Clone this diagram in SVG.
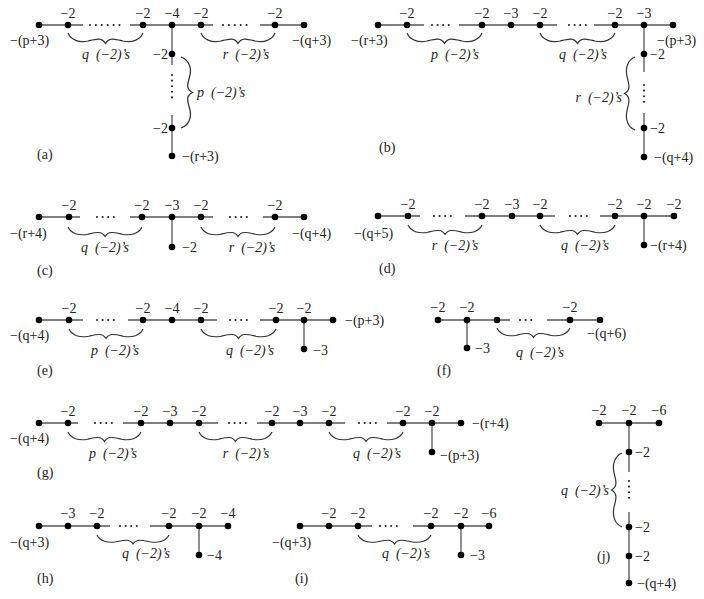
<svg xmlns="http://www.w3.org/2000/svg" xmlns:xlink="http://www.w3.org/1999/xlink" width="704" height="599" viewBox="0 0 704 599">
<style>
.e{stroke:#555;stroke-width:1.3;fill:none}
.n circle{fill:#000}
text{font-family:"Liberation Serif","Times New Roman",serif;font-size:14px;fill:#222}
.i{font-style:italic;white-space:pre}
.m{text-anchor:middle}
.r{text-anchor:end}
.d{stroke:#222;stroke-width:2.1;stroke-linecap:round;stroke-dasharray:0 5.6;fill:none}
.d6{stroke:#222;stroke-width:2.1;stroke-linecap:round;stroke-dasharray:0 5.9;fill:none}
</style>
<defs>
<path id="br" d="M0,0 C3,7 11,10 20,8 C28,6 34,4 37.5,10.5 C41,4 47,6 55,8 C64,10 72,7 75,0" fill="none" stroke="#333" stroke-width="1.2"/>
</defs>
<rect width="704" height="599" fill="#fff"/>

<!-- (a) -->
<g id="fig-a">
<g id="a-edges">
<path class="e" d="M39,25H83M130,25H213M260,25H304M172,25V65M172,115V156"/>
<path class="d6" d="M90,25H120M223,25H252"/>
<path class="d" d="M172,75V102"/>
</g>
<g id="a-nodes" class="n">
<circle cx="39" cy="25" r="3.3"/><circle cx="68" cy="25" r="3.3"/><circle cx="143" cy="25" r="3.3"/><circle cx="172" cy="25" r="3.3"/><circle cx="201" cy="25" r="3.3"/><circle cx="275" cy="25" r="3.3"/><circle cx="304" cy="25" r="3.3"/>
<circle cx="172" cy="54" r="3.3"/><circle cx="172" cy="128" r="3.3"/><circle cx="172" cy="156" r="3.3"/>
</g>
<g id="a-labels">
<text class="m" x="68" y="18">−2</text><text class="m" x="143" y="18">−2</text><text class="m" x="172" y="18">−4</text><text class="m" x="201" y="18">−2</text><text class="m" x="275" y="18">−2</text>
<text x="10" y="45">−(p+3)</text><text x="292" y="45">−(q+3)</text>
<text class="r" x="168" y="59">−2</text><text class="r" x="168" y="133">−2</text>
<text x="182" y="161">−(r+3)</text><text x="37" y="159">(a)</text>
</g>
<g id="a-braces">
<use xlink:href="#br" transform="matrix(1,0,0,1,68,33)"/>
<use xlink:href="#br" transform="matrix(0.987,0,0,1,201,33)"/>
<use xlink:href="#br" transform="matrix(0,0.947,1.1,0,181,57)"/>
<text class="i m" x="106" y="59">q  (−2)’s</text>
<text class="i m" x="246" y="59">r  (−2)’s</text>
<text class="i" x="197" y="97">p  (−2)’s</text>
</g>
</g>

<!-- (b) -->
<g id="fig-b">
<g id="b-edges">
<path class="e" d="M378,25H424M459,25H557M594,25H673M644,25V72M644,113V157"/>
<path class="d" d="M432,25H449M569,25H586"/>
<path class="d" d="M644,85V102"/>
</g>
<g id="b-nodes" class="n">
<circle cx="378" cy="25" r="3.3"/><circle cx="407" cy="25" r="3.3"/><circle cx="482" cy="25" r="3.3"/><circle cx="511" cy="25" r="3.3"/><circle cx="540" cy="25" r="3.3"/><circle cx="615" cy="25" r="3.3"/><circle cx="644" cy="25" r="3.3"/><circle cx="673" cy="25" r="3.3"/>
<circle cx="644" cy="54" r="3.3"/><circle cx="644" cy="128" r="3.3"/><circle cx="644" cy="157" r="3.3"/>
</g>
<g id="b-labels">
<text class="m" x="407" y="18">−2</text><text class="m" x="482" y="18">−2</text><text class="m" x="511" y="18">−3</text><text class="m" x="540" y="18">−2</text><text class="m" x="615" y="18">−2</text><text class="m" x="644" y="18">−3</text>
<text x="351" y="45">−(r+3)</text><text x="657" y="45">−(p+3)</text>
<text x="650" y="59">−2</text><text x="650" y="133">−2</text>
<text x="654" y="162">−(q+4)</text><text x="379" y="152">(b)</text>
</g>
<g id="b-braces">
<use xlink:href="#br" transform="matrix(1,0,0,1,407,33)"/>
<use xlink:href="#br" transform="matrix(1,0,0,1,540,33)"/>
<use xlink:href="#br" transform="matrix(0,0.973,-1,0,635,57)"/>
<text class="i m" x="455" y="59">p  (−2)’s</text>
<text class="i m" x="583" y="59">q  (−2)’s</text>
<text class="i r" x="622" y="102">r  (−2)’s</text>
</g>
</g>

<!-- (c) -->
<g id="fig-c">
<g id="c-edges">
<path class="e" d="M39,217H80M130,217H213M263,217H304M172,217V247"/>
<path class="d" d="M97,217H114M230,217H247"/>
</g>
<g id="c-nodes" class="n">
<circle cx="39" cy="217" r="3.3"/><circle cx="69" cy="217" r="3.3"/><circle cx="142" cy="217" r="3.3"/><circle cx="172" cy="217" r="3.3"/><circle cx="201" cy="217" r="3.3"/><circle cx="275" cy="217" r="3.3"/><circle cx="304" cy="217" r="3.3"/><circle cx="172" cy="247" r="3.3"/>
</g>
<g id="c-labels">
<text class="m" x="69" y="210">−2</text><text class="m" x="142" y="210">−2</text><text class="m" x="172" y="210">−3</text><text class="m" x="201" y="210">−2</text><text class="m" x="275" y="210">−2</text>
<text x="10" y="238">−(r+4)</text><text x="292" y="238">−(q+4)</text>
<text x="182" y="252">−2</text><text x="37" y="275">(c)</text>
</g>
<g id="c-braces">
<use xlink:href="#br" transform="matrix(0.987,0,0,0.9,68,227)"/>
<use xlink:href="#br" transform="matrix(0.987,0,0,0.9,201,227)"/>
<text class="i m" x="105" y="252">q  (−2)’s</text>
<text class="i m" x="252" y="252">r  (−2)’s</text>
</g>
</g>

<!-- (d) -->
<g id="fig-d">
<g id="d-edges">
<path class="e" d="M378,216H420M465,216H555M600,216H674M644,216V245"/>
<path class="d" d="M434,216H451M570,216H587"/>
</g>
<g id="d-nodes" class="n">
<circle cx="378" cy="216" r="3.3"/><circle cx="408" cy="216" r="3.3"/><circle cx="482" cy="216" r="3.3"/><circle cx="512" cy="216" r="3.3"/><circle cx="540" cy="216" r="3.3"/><circle cx="615" cy="216" r="3.3"/><circle cx="644" cy="216" r="3.3"/><circle cx="674" cy="216" r="3.3"/><circle cx="644" cy="245" r="3.3"/>
</g>
<g id="d-labels">
<text class="m" x="408" y="209">−2</text><text class="m" x="482" y="209">−2</text><text class="m" x="512" y="209">−3</text><text class="m" x="540" y="209">−2</text><text class="m" x="615" y="209">−2</text><text class="m" x="644" y="209">−2</text><text class="m" x="674" y="209">−2</text>
<text x="354" y="238">−(q+5)</text><text x="650" y="250">−(r+4)</text><text x="379" y="273">(d)</text>
</g>
<g id="d-braces">
<use xlink:href="#br" transform="matrix(0.987,0,0,0.9,408,225)"/>
<use xlink:href="#br" transform="matrix(1,0,0,0.9,540,225)"/>
<text class="i m" x="455" y="250">r  (−2)’s</text>
<text class="i m" x="585" y="250">q  (−2)’s</text>
</g>
</g>

<!-- (e) -->
<g id="fig-e">
<g id="e-edges">
<path class="e" d="M39,320H83M128,320H217M260,320H333M304,320V349"/>
<path class="d" d="M97,320H114M230,320H247"/>
</g>
<g id="e-nodes" class="n">
<circle cx="39" cy="320" r="3.3"/><circle cx="69" cy="320" r="3.3"/><circle cx="143" cy="320" r="3.3"/><circle cx="172" cy="320" r="3.3"/><circle cx="201" cy="320" r="3.3"/><circle cx="276" cy="320" r="3.3"/><circle cx="304" cy="320" r="3.3"/><circle cx="333" cy="320" r="3.3"/><circle cx="304" cy="349" r="3.3"/>
</g>
<g id="e-labels">
<text class="m" x="69" y="313">−2</text><text class="m" x="143" y="313">−2</text><text class="m" x="172" y="313">−4</text><text class="m" x="201" y="313">−2</text><text class="m" x="276" y="313">−2</text><text class="m" x="304" y="313">−2</text>
<text x="345" y="325">−(p+3)</text><text x="10" y="340">−(q+4)</text>
<text x="313" y="355">−3</text><text x="37" y="375">(e)</text>
</g>
<g id="e-braces">
<use xlink:href="#br" transform="matrix(0.987,0,0,0.9,69,329)"/>
<use xlink:href="#br" transform="matrix(1,0,0,0.9,201,329)"/>
<text class="i m" x="115" y="355">p  (−2)’s</text>
<text class="i m" x="250" y="355">q  (−2)’s</text>
</g>
</g>

<!-- (f) -->
<g id="fig-f">
<g id="f-edges">
<path class="e" d="M438,320H510M547,320H600M467,320V348"/>
<path class="d" d="M520,320H534"/>
</g>
<g id="f-nodes" class="n">
<circle cx="438" cy="320" r="3.3"/><circle cx="467" cy="320" r="3.3"/><circle cx="497" cy="320" r="3.3"/><circle cx="570" cy="320" r="3.3"/><circle cx="600" cy="320" r="3.3"/><circle cx="467" cy="348" r="3.3"/>
</g>
<g id="f-labels">
<text class="m" x="438" y="312">−2</text><text class="m" x="467" y="312">−2</text><text class="m" x="570" y="312">−2</text>
<text x="587" y="338">−(q+6)</text><text x="475" y="353">−3</text><text x="437" y="375">(f)</text>
</g>
<g id="f-braces">
<use xlink:href="#br" transform="matrix(0.973,0,0,0.9,497,328)"/>
<text class="i m" x="540" y="357">q  (−2)’s</text>
</g>
</g>

<!-- (g) -->
<g id="fig-g">
<g id="g-edges">
<path class="e" d="M39,423H78M123,423H218M257,423H345M387,423H461M432,423V452"/>
<path class="d" d="M95,423H112M229,423H246M359,423H376"/>
</g>
<g id="g-nodes" class="n">
<circle cx="39" cy="423" r="3.3"/><circle cx="68" cy="423" r="3.3"/><circle cx="141" cy="423" r="3.3"/><circle cx="170" cy="423" r="3.3"/><circle cx="199" cy="423" r="3.3"/><circle cx="272" cy="423" r="3.3"/><circle cx="300" cy="423" r="3.3"/><circle cx="329" cy="423" r="3.3"/><circle cx="403" cy="423" r="3.3"/><circle cx="432" cy="423" r="3.3"/><circle cx="461" cy="423" r="3.3"/><circle cx="432" cy="452" r="3.3"/>
</g>
<g id="g-labels">
<text class="m" x="68" y="416">−2</text><text class="m" x="141" y="416">−2</text><text class="m" x="170" y="416">−3</text><text class="m" x="199" y="416">−2</text><text class="m" x="272" y="416">−2</text><text class="m" x="300" y="416">−3</text><text class="m" x="329" y="416">−2</text><text class="m" x="403" y="416">−2</text><text class="m" x="432" y="416">−2</text>
<text x="10" y="443">−(q+4)</text><text x="472" y="428">−(r+4)</text><text x="440" y="460">−(p+3)</text><text x="37" y="477">(g)</text>
</g>
<g id="g-braces">
<use xlink:href="#br" transform="matrix(0.973,0,0,0.9,68,432)"/>
<use xlink:href="#br" transform="matrix(0.973,0,0,0.9,199,432)"/>
<use xlink:href="#br" transform="matrix(0.987,0,0,0.9,329,432)"/>
<text class="i m" x="113" y="458">p  (−2)’s</text>
<text class="i m" x="246" y="458">r  (−2)’s</text>
<text class="i m" x="377" y="458">q  (−2)’s</text>
</g>
</g>

<!-- (h) -->
<g id="fig-h">
<g id="h-edges">
<path class="e" d="M39,526H110M150,526H228M199,526V555"/>
<path class="d" d="M120,526H137"/>
</g>
<g id="h-nodes" class="n">
<circle cx="39" cy="526" r="3.3"/><circle cx="68" cy="526" r="3.3"/><circle cx="97" cy="526" r="3.3"/><circle cx="169" cy="526" r="3.3"/><circle cx="199" cy="526" r="3.3"/><circle cx="228" cy="526" r="3.3"/><circle cx="199" cy="555" r="3.3"/>
</g>
<g id="h-labels">
<text class="m" x="68" y="518">−3</text><text class="m" x="97" y="518">−2</text><text class="m" x="169" y="518">−2</text><text class="m" x="199" y="518">−2</text><text class="m" x="228" y="518">−4</text>
<text x="10" y="547">−(q+3)</text><text x="207" y="560">−4</text><text x="37" y="583">(h)</text>
</g>
<g id="h-braces">
<use xlink:href="#br" transform="matrix(0.96,0,0,0.85,97,535)"/>
<text class="i m" x="146" y="558">q  (−2)’s</text>
</g>
</g>

<!-- (i) -->
<g id="fig-i">
<g id="i-edges">
<path class="e" d="M300,526H372M413,526H489M461,526V555"/>
<path class="d" d="M380,526H397"/>
</g>
<g id="i-nodes" class="n">
<circle cx="300" cy="526" r="3.3"/><circle cx="329" cy="526" r="3.3"/><circle cx="358" cy="526" r="3.3"/><circle cx="431" cy="526" r="3.3"/><circle cx="461" cy="526" r="3.3"/><circle cx="489" cy="526" r="3.3"/><circle cx="461" cy="555" r="3.3"/>
</g>
<g id="i-labels">
<text class="m" x="329" y="518">−2</text><text class="m" x="358" y="518">−2</text><text class="m" x="431" y="518">−2</text><text class="m" x="461" y="518">−2</text><text class="m" x="489" y="518">−6</text>
<text x="272" y="547">−(q+3)</text><text x="470" y="560">−3</text><text x="295" y="583">(i)</text>
</g>
<g id="i-braces">
<use xlink:href="#br" transform="matrix(0.973,0,0,0.85,358,535)"/>
<text class="i m" x="406" y="558">q  (−2)’s</text>
</g>
</g>

<!-- (j) -->
<g id="fig-j">
<g id="j-edges">
<path class="e" d="M599,423H659M629,423V472M629,512V583"/>
<path class="d" d="M629,481V498"/>
</g>
<g id="j-nodes" class="n">
<circle cx="599" cy="423" r="3.3"/><circle cx="629" cy="423" r="3.3"/><circle cx="659" cy="423" r="3.3"/><circle cx="629" cy="452" r="3.3"/><circle cx="629" cy="527" r="3.3"/><circle cx="629" cy="556" r="3.3"/><circle cx="629" cy="583" r="3.3"/>
</g>
<g id="j-labels">
<text class="m" x="599" y="415">−2</text><text class="m" x="629" y="415">−2</text><text class="m" x="659" y="415">−6</text>
<text x="635" y="457">−2</text><text x="635" y="532">−2</text><text x="635" y="561">−2</text>
<text x="637" y="588">−(q+4)</text><text x="597" y="561">(j)</text>
</g>
<g id="j-braces">
<use xlink:href="#br" transform="matrix(0,0.987,-1,0,622,453)"/>
<text class="i r" x="609" y="495">q  (−2)’s</text>
</g>
</g>
</svg>
